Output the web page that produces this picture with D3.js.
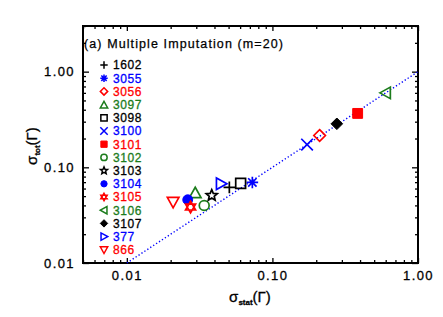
<!DOCTYPE html>
<html>
<head>
<meta charset="utf-8">
<script src="https://cdn.jsdelivr.net/npm/d3@7"></script>
<style>
  body { margin: 0; background: #fff; }
  text { font-family: "Liberation Sans", Arial, sans-serif; }
</style>
</head>
<body>
<div id="chart-area"></div>
<script>
const WIDTH = 443;
const HEIGHT = 317;
const LEFT = 83, RIGHT = 418, TOP = 26, BOTTOM = 263;

// data
const ids = ['1602', '3055', '3056', '3097', '3098', '3100', '3101', '3102',
  '3103', '3104', '3105', '3106', '3107', '377', '866'];
const sigmaStat = [0.0506, 0.0728, 0.211, 0.0295, 0.0605, 0.173, 0.385, 0.034,
  0.0383, 0.0262, 0.0274, 0.60, 0.277, 0.0444, 0.0208];
const sigmaTot = [0.0617, 0.0695, 0.215, 0.0546, 0.068, 0.173, 0.366, 0.0399,
  0.0508, 0.0458, 0.0384, 0.60, 0.285, 0.0674, 0.0434];
const xTicks = [0.01, 0.1, 1];
const yTicks = [0.01, 0.1, 1];
const title = '(a) Multiple Imputation (m=20)';

const BLUE = '#0000ff', RED = '#ff0000', GREEN = '#1c7c1c', BLACK = '#000';
const markers = {
  '1602': ['plus', BLACK], '3055': ['asterisk', BLUE], '3056': ['diamond', RED],
  '3097': ['triUp', GREEN], '3098': ['square', BLACK], '3100': ['times', BLUE],
  '3101': ['squareF', RED], '3102': ['circle', GREEN], '3103': ['star', BLACK],
  '3104': ['circleF', BLUE], '3105': ['hexagram', RED], '3106': ['triLeft', GREEN],
  '3107': ['diamondF', BLACK], '377': ['triRight', BLUE], '866': ['triDown', RED],
};

main();

function main() {
  const data = ids.map((id, i) => ({id, x: sigmaStat[i], y: sigmaTot[i]}));
  const svg = d3.select('#chart-area').append('svg')
    .attr('width', WIDTH)
    .attr('height', HEIGHT);
  showGraph(svg, data);
}

function shape(type, r) {
  const p = d3.path();
  const tri = (rot) => {
    const pts = [[0, -r], [r, r * 0.8], [-r, r * 0.8]].map(([a, b]) => {
      const c = Math.cos(rot), s = Math.sin(rot);
      return [a * c - b * s, a * s + b * c + (rot === 0 ? 0.1 * r : 0)];
    });
    p.moveTo(...pts[0]); p.lineTo(...pts[1]); p.lineTo(...pts[2]); p.closePath();
  };
  switch (type) {
    case 'plus':
      p.moveTo(-r, 0); p.lineTo(r, 0); p.moveTo(0, -r); p.lineTo(0, r); break;
    case 'times':
      p.moveTo(-r, -r); p.lineTo(r, r); p.moveTo(-r, r); p.lineTo(r, -r); break;
    case 'asterisk': {
      const k = r * 0.72;
      p.moveTo(-r, 0); p.lineTo(r, 0); p.moveTo(0, -r); p.lineTo(0, r);
      p.moveTo(-k, -k); p.lineTo(k, k); p.moveTo(-k, k); p.lineTo(k, -k); break;
    }
    case 'diamond': case 'diamondF':
      p.moveTo(0, -r); p.lineTo(r, 0); p.lineTo(0, r); p.lineTo(-r, 0); p.closePath(); break;
    case 'square': case 'squareF':
      p.rect(-r * 0.85, -r * 0.85, r * 1.7, r * 1.7); break;
    case 'circle': case 'circleF':
      p.moveTo(r * 0.85, 0); p.arc(0, 0, r * 0.85, 0, 2 * Math.PI); break;
    case 'triUp': tri(0); break;
    case 'triDown': tri(Math.PI); break;
    case 'triLeft': tri(-Math.PI / 2); break;
    case 'triRight': tri(Math.PI / 2); break;
    case 'star':
      for (let i = 0; i < 10; i++) {
        const a = -Math.PI / 2 + i * Math.PI / 5;
        const rr = i % 2 ? r * 0.45 : r;
        i ? p.lineTo(rr * Math.cos(a), rr * Math.sin(a)) : p.moveTo(rr * Math.cos(a), rr * Math.sin(a));
      }
      p.closePath(); break;
    case 'hexagram':
      for (const off of [-Math.PI / 2, Math.PI / 2]) {
        for (let i = 0; i < 3; i++) {
          const a = off + i * 2 * Math.PI / 3;
          i ? p.lineTo(r * Math.cos(a), r * Math.sin(a)) : p.moveTo(r * Math.cos(a), r * Math.sin(a));
        }
        p.closePath();
      }
      break;
  }
  return p.toString();
}

function drawMarker(g, id, cx, cy, r, sw) {
  const [type, color] = markers[id];
  const filled = /F$/.test(type);
  g.append('path')
    .attr('transform', `translate(${cx},${cy})`)
    .attr('d', shape(type, r))
    .attr('fill', filled ? color : 'none')
    .attr('stroke', color)
    .attr('stroke-width', filled ? 1 : sw)
    .attr('stroke-linejoin', 'miter');
}

function showGraph(svg, data) {
  const x = d3.scaleLog().domain([0.005, 1]).range([LEFT, RIGHT]);
  const y = d3.scaleLog().domain([0.01, 3]).range([BOTTOM, TOP]);
  const fmt = d3.format('.2f');
  const minorX = x.ticks().filter(v => !xTicks.includes(v));
  const minorY = y.ticks().filter(v => !yTicks.includes(v));

  const axes = svg.append('g').attr('class', 'axes');
  const addAxis = (axisFn, scale, values, size, labels, transform) => {
    axes.append('g')
      .attr('transform', transform)
      .call(axisFn(scale).tickValues(values).tickSize(-size).tickSizeOuter(0)
        .tickPadding(8).tickFormat(labels ? fmt : ''))
      .call(a => a.select('.domain').remove())
      .call(a => a.selectAll('line').attr('stroke', '#000').attr('stroke-width', 1.3))
      .call(a => a.selectAll('text').attr('fill', '#000')
        .attr('stroke', '#000').attr('stroke-width', 0.3)
        .attr('font-size', 13).attr('letter-spacing', 1.4));
  };
  addAxis(d3.axisBottom, x, xTicks, 5, true, `translate(0,${BOTTOM})`);
  addAxis(d3.axisBottom, x, minorX, 3, false, `translate(0,${BOTTOM})`);
  addAxis(d3.axisTop, x, xTicks, 5, false, `translate(0,${TOP})`);
  addAxis(d3.axisTop, x, minorX, 3, false, `translate(0,${TOP})`);
  addAxis(d3.axisLeft, y, yTicks, 6, true, `translate(${LEFT},0)`);
  addAxis(d3.axisLeft, y, minorY, 3, false, `translate(${LEFT},0)`);
  addAxis(d3.axisRight, y, yTicks, 6, false, `translate(${RIGHT},0)`);
  addAxis(d3.axisRight, y, minorY, 3, false, `translate(${RIGHT},0)`);

  axes.append('rect')
    .attr('x', LEFT).attr('y', TOP)
    .attr('width', RIGHT - LEFT).attr('height', BOTTOM - TOP)
    .attr('fill', 'none').attr('stroke', '#000').attr('stroke-width', 2);

  // one-to-one line
  svg.append('line')
    .attr('x1', x(0.01)).attr('y1', y(0.01))
    .attr('x2', x(1)).attr('y2', y(1))
    .attr('stroke', BLUE).attr('stroke-width', 1.4)
    .attr('stroke-dasharray', '1.3 2.2');

  const pts = svg.append('g');
  data.forEach(d => drawMarker(pts, d.id, x(d.x), y(d.y), 5.8, 1.7));

  // legend
  const lg = svg.append('g');
  ids.forEach((id, i) => {
    const ly = 65 + i * 13.2;
    drawMarker(lg, id, 104, ly, 3.7, 1.5);
    lg.append('text')
      .attr('x', 113).attr('y', ly)
      .attr('dy', '0.36em')
      .attr('font-size', 12)
      .attr('letter-spacing', 0.6)
      .attr('fill', markers[id][1])
      .attr('stroke', markers[id][1])
      .attr('stroke-width', 0.3)
      .text(id);
  });

  svg.append('text')
    .attr('x', 84).attr('y', 48)
    .attr('font-size', 12.5)
    .attr('letter-spacing', 1.1)
    .attr('stroke', '#000')
    .attr('stroke-width', 0.25)
    .text(title);

  // axis titles
  const xl = svg.append('text')
    .attr('x', 250).attr('y', 302)
    .attr('text-anchor', 'middle')
    .attr('font-size', 15)
    .attr('stroke', '#000').attr('stroke-width', 0.3);
  xl.append('tspan').text('σ');
  xl.append('tspan').attr('font-size', 8).attr('font-weight', 'bold').attr('dy', 3).text('stat');
  xl.append('tspan').attr('dy', -3).text('(Γ)');

  const yl = svg.append('text')
    .attr('transform', 'translate(37,146) rotate(-90)')
    .attr('text-anchor', 'middle')
    .attr('font-size', 15)
    .attr('stroke', '#000').attr('stroke-width', 0.3);
  yl.append('tspan').text('σ');
  yl.append('tspan').attr('font-size', 8).attr('font-weight', 'bold').attr('dy', 3).text('tot');
  yl.append('tspan').attr('dy', -3).text('(Γ)');
}
</script>
</body>
</html>
